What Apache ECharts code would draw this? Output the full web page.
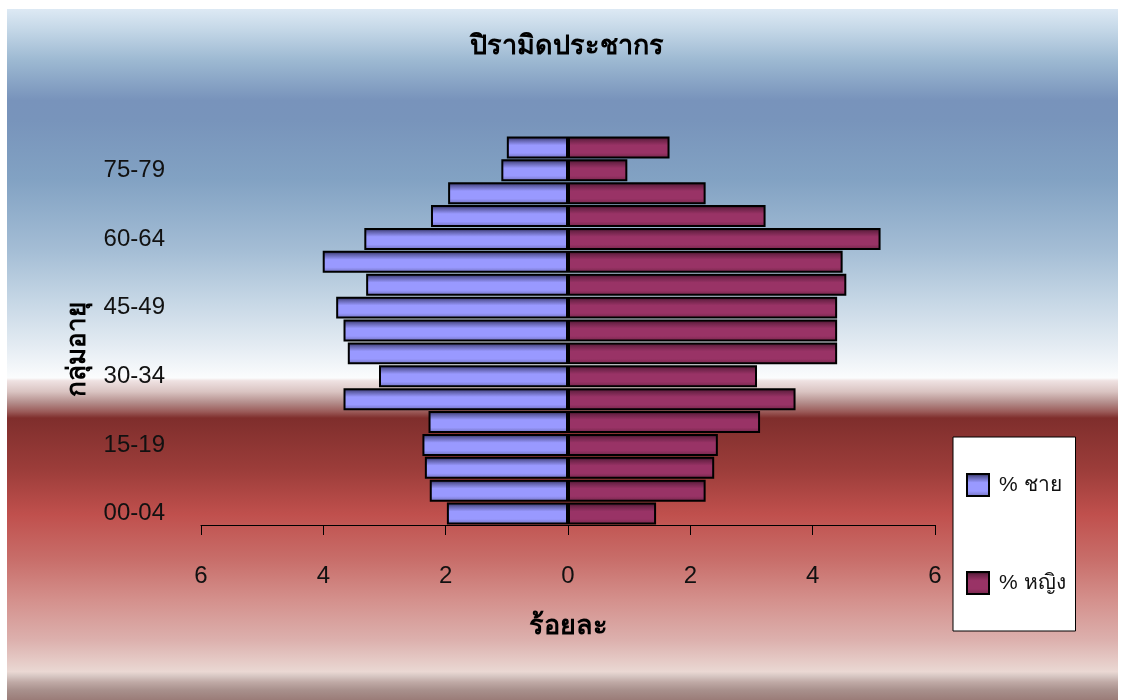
<!DOCTYPE html>
<html>
<head>
<meta charset="utf-8">
<script src="https://cdn.jsdelivr.net/npm/echarts@6/dist/echarts.min.js"></script>
<style>
html,body{margin:0;padding:0;background:#fff;}
#chart{width:1123px;height:700px;}
</style>
</head>
<body>
<div id="chart"></div>
<script>
var ageGroups = ['00-04','05-09','10-14','15-19','20-24','25-29','30-34','35-39','40-44','45-49','50-54','55-59','60-64','65-69','70-74','75-79','80+'];
var malePct =   [1.98, 2.26, 2.34, 2.38, 2.28, 3.67, 3.09, 3.60, 3.67, 3.79, 3.30, 4.01, 3.33, 2.24, 1.96, 1.09, 1.00];
var femalePct = [1.44, 2.25, 2.39, 2.45, 3.14, 3.72, 3.09, 4.40, 4.40, 4.40, 4.55, 4.49, 5.11, 3.23, 2.25, 0.97, 1.66];
var xTicks = [-6, -4, -2, 0, 2, 4, 6];
var seriesNames = ['% ชาย', '% หญิง'];

var chart = echarts.init(document.getElementById('chart'));
var G = echarts.graphic.LinearGradient;
var bg = new G(0, 0, 0, 1, [
  {offset: 0.000, color: '#dde9f4'},
  {offset: 0.030, color: '#c4d7e7'},
  {offset: 0.074, color: '#9db9d2'},
  {offset: 0.132, color: '#7893bb'},
  {offset: 0.161, color: '#7894bb'},
  {offset: 0.247, color: '#82a2c3'},
  {offset: 0.349, color: '#a4bdd5'},
  {offset: 0.421, color: '#c5d6e5'},
  {offset: 0.486, color: '#e3ebf2'},
  {offset: 0.534, color: '#fbfcfd'},
  {offset: 0.538, color: '#efe2e2'},
  {offset: 0.554, color: '#d9c3c1'},
  {offset: 0.569, color: '#b58f8d'},
  {offset: 0.583, color: '#9a5a58'},
  {offset: 0.592, color: '#7f2e2c'},
  {offset: 0.667, color: '#9c3d3a'},
  {offset: 0.732, color: '#c0504d'},
  {offset: 0.797, color: '#c86e6a'},
  {offset: 0.855, color: '#d4908c'},
  {offset: 0.913, color: '#dcb0ad'},
  {offset: 0.959, color: '#ead8d3'},
  {offset: 0.965, color: '#d8c8c4'},
  {offset: 0.974, color: '#c0aaa6'},
  {offset: 0.986, color: '#a8908c'},
  {offset: 1.000, color: '#9a7c78'}
]);
var maleFill = new G(0, 0, 0, 1, [
  {offset: 0, color: '#1a1a40'},
  {offset: 0.15, color: '#5a5aa0'},
  {offset: 0.4, color: '#9999ff'},
  {offset: 0.75, color: '#9999ff'},
  {offset: 1, color: '#6e6eb8'}
]);
var femaleFill = new G(0, 0, 0, 1, [
  {offset: 0, color: '#1f0812'},
  {offset: 0.15, color: '#6a2246'},
  {offset: 0.4, color: '#993366'},
  {offset: 0.75, color: '#993366'},
  {offset: 1, color: '#722648'}
]);
var font = '"Liberation Sans", "Noto Sans", sans-serif';

chart.setOption({
  animation: false,
  backgroundColor: '#ffffff',
  graphic: [{
    type: 'rect', z: -100, silent: true,
    shape: {x: 7, y: 9, width: 1111, height: 691},
    style: {fill: bg}
  }],
  title: {
    text: 'ปิรามิดประชากร',
    left: 562, top: 28, textAlign: 'center',
    textStyle: {fontSize: 27, fontWeight: 'bold', color: '#000', fontFamily: font}
  },
  legend: {
    orient: 'vertical',
    left: 953, top: 437,
    padding: [36, 10, 36, 13],
    itemGap: 74,
    itemWidth: 22, itemHeight: 22,
    icon: 'rect',
    backgroundColor: '#ffffff',
    borderColor: '#000', borderWidth: 1,
    textStyle: {fontSize: 21, color: '#111', fontFamily: font, padding: [0, 0, 0, 5]},
    data: seriesNames
  },
  grid: {left: 201, right: 188, top: 136, bottom: 175, containLabel: false},
  xAxis: {
    type: 'value', min: -6, max: 6, interval: 2,
    name: 'ร้อยละ', nameLocation: 'middle', nameGap: 88,
    nameTextStyle: {fontSize: 27, fontWeight: 'bold', color: '#000', fontFamily: font},
    axisLine: {show: true, onZero: false, lineStyle: {color: '#000', width: 1}},
    axisTick: {show: true, length: 10, lineStyle: {color: '#000'}},
    splitLine: {show: false},
    axisLabel: {
      margin: 39, fontSize: 24, color: '#111', fontFamily: font,
      formatter: function (v) { return xTicks.indexOf(v) >= 0 ? String(Math.abs(v)) : ''; }
    }
  },
  yAxis: {
    type: 'category', data: ageGroups,
    name: 'กลุ่มอายุ', nameLocation: 'middle', nameGap: 110, nameRotate: 90,
    nameTextStyle: {fontSize: 26, fontWeight: 'bold', color: '#000', fontFamily: font, padding: [0, 38, 0, 0]},
    axisLine: {show: false, onZero: false},
    axisTick: {show: false},
    axisLabel: {interval: 2, margin: 36, fontSize: 24, color: '#111', fontFamily: font}
  },
  series: [{
    name: seriesNames[0], type: 'bar',
    data: malePct.map(function (v) { return -v; }),
    barGap: '-100%', barCategoryGap: '4%',
    itemStyle: {color: maleFill, borderColor: '#000', borderWidth: 2}
  }, {
    name: seriesNames[1], type: 'bar',
    data: femalePct,
    barGap: '-100%', barCategoryGap: '4%',
    itemStyle: {color: femaleFill, borderColor: '#000', borderWidth: 2}
  }]
});
</script>
</body>
</html>
